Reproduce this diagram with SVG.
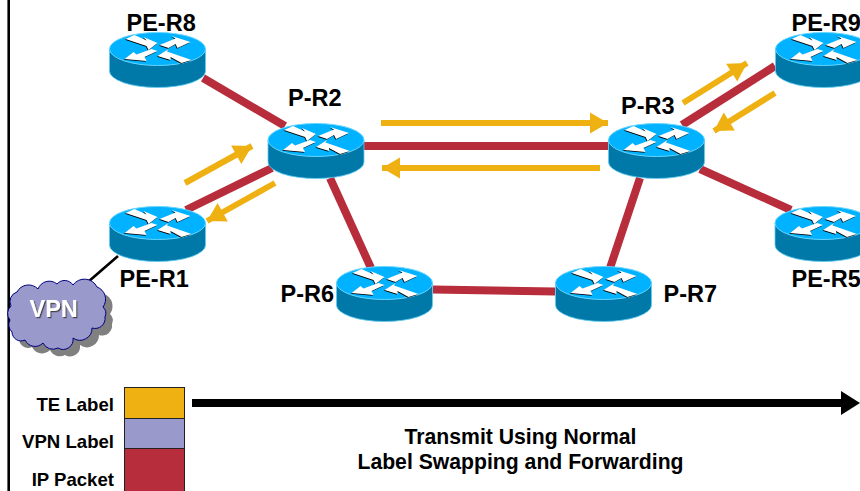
<svg xmlns="http://www.w3.org/2000/svg" width="860" height="491" viewBox="0 0 860 491">
<style>
text{font-family:"Liberation Sans",Arial,sans-serif;font-weight:bold;fill:#000}
.n{font-size:23.5px}
.k{font-size:18.6px;text-anchor:end}
.t{font-size:21.2px;text-anchor:middle}
.l{stroke:#b72d3b;stroke-width:8;fill:none}
.y{stroke:#eeb111;stroke-width:6;fill:none;marker-end:url(#ya)}
.w{fill:#fff}
.bk{fill:#000}
</style>
<defs>
<marker id="ya" markerUnits="userSpaceOnUse" markerWidth="24" markerHeight="24" viewBox="0 0 24 24" refX="21" refY="12" orient="auto"><path d="M3 1.500L21 12L3 22.500Z" fill="#eeb111"/></marker>
<filter id="sh" x="-20%" y="-20%" width="140%" height="140%"><feDropShadow dx="1.2" dy="1.2" stdDeviation="0.4" flood-color="#444"/></filter>
<g id="ra">
<path d="M-32-10L-23-14L-11-8.500L-14-12L0-6L-9 1L-11-3ZM2-4L18-10.500L14-13L33-7L20-1L18-5L11-1ZM-33 10L-24 3L-21 5.500L-6 0L0 2L-13 8L-11 12ZM0 7L11 0L9.500 2.500L34 11L24 14L13 8L13 11Z"/>
</g>
<g id="router">
<path d="M-48 0V22A48 16.5 0 0 0 48 22V0Z" fill="#0079a9" stroke="#5fcdf2" stroke-width="0.8"/>
<ellipse rx="48" ry="16.5" fill="#00b2ff" stroke="#66d5ff" stroke-width="1"/>
<use href="#ra" x="-0.6" y="0.7" class="bk"/>
<use href="#ra" class="w"/>
</g>
</defs>
<rect width="860" height="491" fill="#fff"/>
<path d="M8.7 0V491" stroke="#000" stroke-width="2.6"/>
<g id="connectors">
<path class="l" d="M203 78L285 126"/>
<path class="l" d="M364 146H608"/>
<path class="l" d="M186 210L272 168"/>
<path class="l" d="M330 178L371 268"/>
<path class="l" d="M433 289.500L555 291.500"/>
<path class="l" d="M610 268L640 178"/>
<path class="l" d="M682 125L775 66"/>
<path class="l" d="M700 169L791 210"/>
<path d="M118 256L88 282" stroke="#000" stroke-width="2.600" fill="none"/>
<path class="y" d="M185 183L252 146"/>
<path class="y" d="M275 183L207 221"/>
<path class="y" d="M381 123H608"/>
<path class="y" d="M600 168H382"/>
<path class="y" d="M683 103L747 63"/>
<path class="y" d="M775 93L714 131"/>
<path d="M192 403H842" stroke="#000" stroke-width="8"/>
<path d="M841 391L860 403L841 415Z" fill="#000"/>
</g>
<g id="pe-r8"><use href="#router" x="157.500" y="49"/><text class="n" x="126.500" y="31">PE-R8</text></g>
<g id="p-r2"><use href="#router" x="316" y="140"/><text class="n" x="288" y="106">P-R2</text></g>
<g id="p-r3"><use href="#router" x="656.500" y="140"/><text class="n" x="621" y="114">P-R3</text></g>
<g id="pe-r9"><use href="#router" x="823.500" y="49"/><text class="n" x="791.500" y="31">PE-R9</text></g>
<g id="pe-r1"><use href="#router" x="157.500" y="223"/><text class="n" x="119.500" y="287">PE-R1</text></g>
<g id="pe-r5"><use href="#router" x="823" y="223"/><text class="n" x="791.500" y="287">PE-R5</text></g>
<g id="p-r6"><use href="#router" x="384.500" y="283"/><text class="n" x="280.500" y="302">P-R6</text></g>
<g id="p-r7"><use href="#router" x="603.500" y="283"/><text class="n" x="663.500" y="302">P-R7</text></g>
<g id="vpn">
<path transform="translate(7 7)" fill="#808080" d="M11 306A10 10 0 0 1 17 292A13 13 0 0 1 38 289A12 12 0 0 1 57 284A10 10 0 0 1 73 285A14 14 0 0 1 97 287A13 13 0 0 1 103 307A9 9 0 0 1 105 317A10 10 0 0 1 92 328A12 12 0 0 1 73 338A10 10 0 0 1 58 348A11 11 0 0 1 43 343A11 11 0 0 1 25 340A9 9 0 0 1 12 332A10 10 0 0 1 10 320A10 10 0 0 1 11 306Z"/>
<path fill="#9999cc" stroke="#000080" stroke-width="1" d="M11 306A10 10 0 0 1 17 292A13 13 0 0 1 38 289A12 12 0 0 1 57 284A10 10 0 0 1 73 285A14 14 0 0 1 97 287A13 13 0 0 1 103 307A9 9 0 0 1 105 317A10 10 0 0 1 92 328A12 12 0 0 1 73 338A10 10 0 0 1 58 348A11 11 0 0 1 43 343A11 11 0 0 1 25 340A9 9 0 0 1 12 332A10 10 0 0 1 10 320A10 10 0 0 1 11 306Z"/>
<text x="29.500" y="317" font-size="23.500" style="fill:#fff" filter="url(#sh)">VPN</text>
</g>
<g id="stack" stroke="#222" stroke-width="1">
<rect x="124.500" y="387.500" width="60" height="31" fill="#eeb111"/>
<rect x="124.500" y="418.500" width="60" height="30" fill="#9999cc"/>
<rect x="124.500" y="448.500" width="60" height="43" fill="#b72d3b"/>
</g>
<text class="k" x="114" y="411">TE Label</text>
<text class="k" x="114" y="448">VPN Label</text>
<text class="k" x="114" y="486">IP Packet</text>
<text class="t" x="520.500" y="444">Transmit Using Normal</text>
<text class="t" x="520.500" y="469">Label Swapping and Forwarding</text>
</svg>
